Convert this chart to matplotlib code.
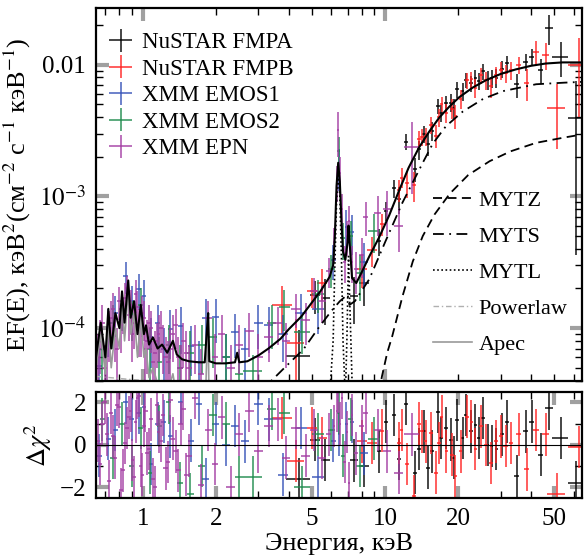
import matplotlib.pyplot as plt
from matplotlib.ticker import FixedLocator, FixedFormatter, NullFormatter, LogLocator
from matplotlib.lines import Line2D

plt.rcParams['font.family'] = ['Liberation Serif', 'DejaVu Serif']
plt.rcParams['mathtext.fontset'] = 'stix'

# ---- model curves (E in keV, EF(E)) ----
mod_E = [0.64, 0.67, 0.70, 0.72, 0.74, 0.77, 0.80, 0.82, 0.84, 0.87, 0.89, 0.92, 0.95, 0.98, 1.01, 1.03,
         1.06, 1.10, 1.15, 1.20, 1.26, 1.33, 1.38, 1.45, 1.55, 1.70, 1.80, 1.84, 1.86, 1.88, 2.0, 2.2, 2.4,
         2.45, 2.5, 2.7, 3.0, 3.3, 3.7, 4.0, 4.5, 4.9, 5.4, 5.9, 6.1, 6.2, 6.3, 6.4, 6.5, 6.6, 6.7, 6.85,
         7.0, 7.06, 7.15, 7.3, 7.6, 8.0, 8.6, 9.45, 10.4, 11.4, 12.5, 13.8, 15.2, 16.7, 18.4, 20.2, 23, 26,
         30, 34.6, 40, 46, 54, 65]
mod_total = [6e-5, 1.1e-4, 6e-5, 1.4e-4, 7e-5, 1.3e-4, 1.0e-4, 1.9e-4, 1.1e-4, 2.3e-4, 1.2e-4, 1.6e-4,
             9e-5, 1.5e-4, 9e-5, 1.05e-4, 7.5e-5, 8.5e-5, 7e-5, 7.5e-5, 6.5e-5, 8e-5, 6.3e-5, 5.8e-5,
             5.6e-5, 5.5e-5, 5.5e-5, 1.0e-4, 1.3e-4, 5.6e-5, 5.4e-5, 5.4e-5, 5.5e-5, 6.5e-5, 5.5e-5,
             5.6e-5, 6.2e-5, 7e-5, 8.3e-5, 9.8e-5, 1.22e-4, 1.5e-4, 1.9e-4, 2.45e-4, 3.0e-4, 5e-4, 1.2e-3,
             1.8e-3, 1.3e-3, 6.5e-4, 3.8e-4, 3.3e-4, 4.5e-4, 6e-4, 4.2e-4, 2.4e-4, 2.2e-4, 2.65e-4, 3.5e-4,
             4.9e-4, 7.2e-4, 1.1e-3, 1.65e-3, 2.35e-3, 3.1e-3, 3.95e-3, 4.8e-3, 5.65e-3, 6.7e-3, 7.6e-3,
             8.5e-3, 9.2e-3, 9.8e-3, 1.02e-2, 1.04e-2, 1.04e-2]

apec_E = [0.64, 0.67, 0.70, 0.72, 0.74, 0.77, 0.80, 0.82, 0.84, 0.87, 0.89, 0.92, 0.95, 0.98, 1.01, 1.03,
          1.06, 1.10, 1.15, 1.20, 1.26, 1.33, 1.38, 1.45, 1.55, 1.70, 1.80, 1.84, 1.86, 1.88, 2.0, 2.4,
          2.45, 2.5, 3.0, 4.0]
apec_F = [5e-5, 9e-5, 4.5e-5, 1.1e-4, 5e-5, 1.0e-4, 7e-5, 1.7e-4, 8e-5, 2.0e-4, 9e-5, 1.3e-4, 6e-5,
          1.2e-4, 6e-5, 7e-5, 4.2e-5, 5e-5, 3.8e-5, 4e-5, 3.2e-5, 4.5e-5, 3e-5, 2.5e-5, 2.2e-5, 2e-5,
          2e-5, 7e-5, 9e-5, 2e-5, 1.8e-5, 1.6e-5, 2.6e-5, 1.5e-5, 1.2e-5, 8e-6]

pl_E = [0.64, 1, 2, 5, 10, 20, 65]
pl_F = [4.3e-5, 4.0e-5, 3.6e-5, 3.2e-5, 2.9e-5, 2.6e-5, 2.2e-5]

myts_E = [3.0, 3.4, 3.8, 4.6, 5.3, 6.0, 6.5, 7.0, 7.12, 7.5, 8.6, 10.0, 11.8, 14.3, 15.7, 17.8, 20.9,
          25.4, 30.7, 42, 55, 65]
myts_F = [3.3e-5, 4.0e-5, 4.9e-5, 6.9e-5, 1.0e-4, 1.35e-4, 1.6e-4, 1.8e-4, 1.5e-4, 1.6e-4, 2.35e-4,
          4.5e-4, 9e-4, 1.8e-3, 2.5e-3, 3.4e-3, 4.4e-3, 5.5e-3, 6.3e-3, 7.1e-3, 7.3e-3, 7.4e-3]

mytz_E = [9.2, 9.7, 10.2, 10.7, 11.8, 13.0, 14.3, 16.0, 18.5, 22, 27, 33, 42, 55, 65]
mytz_F = [2.5e-5, 4.3e-5, 6.5e-5, 8.7e-5, 1.75e-4, 3.2e-4, 5.0e-4, 7.3e-4, 1.05e-3, 1.45e-3, 1.85e-3,
          2.2e-3, 2.55e-3, 2.8e-3, 2.95e-3]

mytl_E = [5.9, 6.1, 6.2, 6.3, 6.4, 6.5, 6.6, 6.7, 6.85, 6.95, 7.06, 7.15, 7.3, 7.45]
mytl_F = [3e-5, 8e-5, 3e-4, 9e-4, 1.55e-3, 1.0e-3, 3.5e-4, 8e-5, 3e-5, 8e-5, 3.5e-4, 1.5e-4, 4e-5, 2.5e-5]

# ---- NuSTAR FMPA ----
nu_a_E = [4.4, 5.15, 5.66, 7.45, 8.2, 9.45, 10.1, 10.9, 11.4, 12.2, 13.3, 13.8, 14.5, 15.0, 15.6, 16.5,
          17.0, 17.8, 18.7, 19.2, 19.8, 20.9, 21.5, 22.6, 23.6, 24.3, 25.3, 26.5, 27.5, 28.8, 30.3, 31.7,
          34.9, 38.0, 40.3, 43.8, 47.4, 53.0, 61.6]
nu_a_dE = [0.5, 0.25, 0.25, 0.3, 0.4, 0.2, 0.2, 0.2, 0.2, 0.25, 0.25, 0.25, 0.25, 0.25, 0.3, 0.3, 0.3,
           0.3, 0.3, 0.3, 0.35, 0.35, 0.35, 0.4, 0.4, 0.4, 0.45, 0.45, 0.5, 0.5, 0.6, 0.6, 0.8, 0.9, 1.0,
           1.2, 1.9, 4.0, 4.5]
nu_a_F = [6.1e-5, 1.77e-4, 1.7e-4, 1.76e-4, 2.2e-4, 4.6e-4, 7.8e-4, 1.15e-3, 9.6e-4, 2.6e-3, 1.62e-3,
          2.27e-3, 2.98e-3, 2.49e-3, 3.14e-3, 4.82e-3, 4.32e-3, 5.08e-3, 5.15e-3, 4.7e-3, 6.48e-3,
          6.27e-3, 7.59e-3, 7.22e-3, 7.95e-3, 7.53e-3, 8.89e-3, 7.7e-3, 7.87e-3, 7.94e-3, 9.23e-3,
          1.03e-2, 7.07e-3, 1.05e-2, 1.15e-2, 9.1e-3, 1.9e-2, 1.14e-2, 3.96e-3]
nu_a_dF = [3.5e-5, 5e-5, 6.5e-5, 6.8e-5, 7.2e-5, 1.1e-4, 1.3e-4, 1.8e-4, 2.2e-4, 3.5e-4, 3.3e-4, 3.8e-4,
           4.3e-4, 4.8e-4, 5.3e-4, 6.2e-4, 6.6e-4, 7.2e-4, 7.9e-4, 8.3e-4, 8.7e-4, 9.5e-4, 9.9e-4,
           1.05e-3, 1.1e-3, 1.14e-3, 1.18e-3, 1.23e-3, 1.27e-3, 1.31e-3, 1.37e-3, 1.4e-3, 1.47e-3,
           1.53e-3, 1.57e-3, 2e-3, 5e-3, 3.4e-3, 3.6e-3]
nu_a_r = [-1.6, 0.25, -0.7, -0.73, -1.0, -0.3, 1.1, 1.4, -0.65, 1.95, -1.3, -0.2, 0.64, -1.07, -0.3, 1.57,
          0.33, 0.8, 0.25, -0.6, 1.18, 0.33, 1.4, 0.64, 0.95, 0.33, 1.26, 0.0, -0.06, -0.2, 0.5, 1.1,
          -1.45, 0.64, 1.1, -0.45, 1.72, 0.33, -1.77]

# ---- NuSTAR FMPB ----
nu_b_E = [3.76, 4.27, 5.0, 5.5, 8.03, 8.83, 9.7, 11.4, 11.7, 12.3, 13.1, 13.8, 14.2, 14.7, 15.4, 16.2,
          16.7, 17.1, 17.9, 18.8, 19.5, 20.5, 21.7, 22.7, 23.6, 24.8, 26.1, 27.3, 28.6, 30.0, 31.4, 33.0,
          35.6, 38.4, 41.8, 46.0, 51.0, 63.0]
nu_b_dE = [0.35, 0.35, 0.25, 0.25, 0.35, 0.4, 0.2, 0.2, 0.2, 0.25, 0.25, 0.25, 0.25, 0.25, 0.3, 0.3, 0.3,
           0.3, 0.3, 0.35, 0.35, 0.35, 0.4, 0.4, 0.4, 0.45, 0.45, 0.5, 0.5, 0.6, 0.6, 0.7, 0.8, 1.0, 1.2,
           1.6, 4.5, 6.0]
nu_b_F = [1.5e-4, 7.7e-5, 1.92e-4, 2.2e-4, 2.83e-4, 3.9e-4, 6.2e-4, 1.12e-3, 1.39e-3, 1.27e-3, 1.21e-3,
          2.73e-3, 2.81e-3, 2.88e-3, 3.49e-3, 2.89e-3, 4.01e-3, 5.03e-3, 4.33e-3, 4.64e-3, 4.11e-3,
          5.52e-3, 7.58e-3, 7.76e-3, 6.68e-3, 8.31e-3, 7.6e-3, 6.84e-3, 8.37e-3, 9.04e-3, 8.61e-3,
          9.09e-3, 1.0e-2, 7.3e-3, 1.25e-2, 1.19e-2, 4.7e-3, 1.0e-2]
nu_b_dF = [6e-5, 4e-5, 5e-5, 6e-5, 8e-5, 1e-4, 1.2e-4, 2.2e-4, 2.4e-4, 3e-4, 3.1e-4, 3.8e-4, 4.1e-4,
           4.5e-4, 5.1e-4, 5.8e-4, 6.3e-4, 6.6e-4, 7.3e-4, 8e-4, 8.6e-4, 9.3e-4, 1.0e-3, 1.06e-3, 1.1e-3,
           1.17e-3, 1.22e-3, 1.26e-3, 1.3e-3, 1.36e-3, 1.4e-3, 1.43e-3, 1.5e-3, 2e-3, 2.5e-3, 2.8e-3,
           2.4e-3, 6e-3]
nu_b_r = [1.26, -0.76, 0.8, 0.33, 0.17, 0.1, 0.67, 0.1, 0.7, -0.9, -2.4, 1.0, 0.64, 0.17, 0.56, -1.3, 0.1,
          1.33, -0.3, -0.45, -1.45, -0.3, 1.33, 1.1, -0.2, 0.87, 0.0, -0.84, 0.17, 0.4, -0.06, 0.1, 0.5,
          -1.15, 0.7, 0.5, -2.3, -0.1]

# ---- XMM EMOS1 ----
m1_E = [0.66, 0.72, 0.77, 0.85, 0.90, 0.96, 1.01, 1.08, 1.15, 1.22, 1.30, 1.43, 1.58, 1.70, 1.82, 2.0,
        2.2, 2.41, 2.65, 3.0, 3.3, 3.8, 4.5, 5.3, 6.1, 6.45, 6.9, 7.3, 8.2]
m1_dE = [0.015, 0.015, 0.02, 0.02, 0.02, 0.02, 0.02, 0.025, 0.03, 0.03, 0.035, 0.04, 0.05, 0.05, 0.06,
         0.07, 0.08, 0.09, 0.1, 0.12, 0.14, 0.18, 0.25, 0.3, 0.15, 0.08, 0.1, 0.15, 0.3]
m1_F = [5.2e-5, 1.0e-4, 1.3e-4, 2.5e-4, 1.6e-4, 1.97e-4, 1.75e-4, 8.5e-5, 1.1e-4, 7e-5, 9.8e-5, 1.04e-4,
        7.3e-5, 5.5e-5, 1.2e-4, 1.22e-4, 6e-5, 9.4e-5, 7e-5, 1.1e-4, 1.05e-4, 9e-5, 1.3e-4, 1.4e-4,
        3.3e-4, 1.7e-3, 5.9e-4, 5.4e-4, 3.2e-4]
m1_dF = [2.5e-5, 4e-5, 4.5e-5, 7e-5, 5e-5, 6e-5, 5.5e-5, 3.5e-5, 4e-5, 3e-5, 4e-5, 4e-5, 3e-5, 2.5e-5,
         4.5e-5, 4.5e-5, 3e-5, 3.5e-5, 3e-5, 4e-5, 4e-5, 3.5e-5, 5e-5, 5e-5, 1e-4, 6e-4, 2e-4, 1.8e-4,
         1.2e-4]
m1_r = [-0.5, 0.3, 0.7, 2.0, 1.2, 1.5, 1.8, -0.9, 1.0, 1.1, 0.4, 2.0, 0.2, 1.95, -1.6, 1.0, 0.0, 0.9,
        0.17, 1.95, 1.2, -1.4, 0.8, -1.5, 0.2, 0.5, 1.0, 1.1, -0.4]

# ---- XMM EMOS2 ----
m2_E = [0.68, 0.75, 0.82, 0.90, 0.98, 1.07, 1.17, 1.28, 1.42, 1.57, 1.75, 1.95, 2.2, 2.5, 2.84, 3.4,
        3.84, 4.55, 5.3, 6.0, 6.42, 6.7, 7.2, 7.9, 9.0]
m2_dE = [0.015, 0.02, 0.02, 0.02, 0.025, 0.025, 0.03, 0.03, 0.04, 0.05, 0.06, 0.07, 0.08, 0.1, 0.25,
         0.15, 0.2, 0.35, 0.3, 0.2, 0.08, 0.1, 0.15, 0.3, 0.5]
m2_F = [7e-5, 1.1e-4, 1.4e-4, 1.2e-4, 1.5e-4, 7e-5, 5.5e-5, 7.5e-5, 5e-5, 6.5e-5, 7.5e-5, 8.5e-5, 6e-5,
        4.5e-5, 4.7e-5, 1.1e-4, 1.45e-4, 9.4e-5, 1.8e-4, 2.8e-4, 2.2e-3, 4.8e-4, 5e-4, 2.6e-4, 5.5e-4]
m2_dF = [3e-5, 4e-5, 4.5e-5, 4e-5, 5e-5, 3e-5, 3e-5, 3e-5, 2.5e-5, 3e-5, 3e-5, 3.5e-5, 3e-5, 2.5e-5,
         1.5e-5, 4e-5, 5e-5, 3e-5, 5e-5, 8e-5, 6e-4, 1.5e-4, 1.5e-4, 1e-4, 1.8e-4]
m2_r = [1.2, -0.6, 1.0, -1.0, 0.8, -1.3, 0.9, 2.0, -1.8, -2.3, -1.0, 1.4, 1.0, -1.5, -1.5, 1.7, 1.5,
        -2.0, 0.5, 0.7, 1.5, -0.5, 1.2, -1.0, 0.3]

# ---- XMM EPN ----
pn_E = [0.65, 0.68, 0.71, 0.74, 0.77, 0.80, 0.83, 0.86, 0.89, 0.92, 0.95, 0.98, 1.01, 1.04, 1.08, 1.12,
        1.16, 1.21, 1.27, 1.33, 1.40, 1.47, 1.55, 1.64, 1.74, 1.86, 1.98, 2.12, 2.3, 2.5, 2.75, 3.0,
        3.3, 3.6, 3.9, 4.3, 4.7, 5.1, 5.5, 5.85, 6.15, 6.3, 6.4, 6.5, 6.62, 6.8, 6.95, 7.1, 7.3, 7.6,
        8.0, 8.3, 9.3, 10.2, 11.4, 12.9,
        0.665, 0.695, 0.725, 0.755, 0.785, 0.815, 0.845, 0.875, 0.905, 0.935, 0.965, 0.995, 1.025, 1.06,
        1.10, 1.14, 1.185, 1.24, 1.30, 1.365, 1.435, 1.51]
pn_dE = [0.015, 0.015, 0.015, 0.015, 0.015, 0.015, 0.015, 0.015, 0.015, 0.015, 0.015, 0.015, 0.02, 0.02,
         0.02, 0.02, 0.02, 0.025, 0.025, 0.03, 0.03, 0.035, 0.04, 0.045, 0.05, 0.06, 0.06, 0.07, 0.09,
         0.1, 0.12, 0.12, 0.15, 0.15, 0.15, 0.2, 0.2, 0.2, 0.2, 0.15, 0.08, 0.05, 0.05, 0.05, 0.06, 0.08,
         0.07, 0.08, 0.1, 0.15, 0.2, 0.2, 0.3, 0.4, 0.5, 0.9,
         0.015, 0.015, 0.015, 0.015, 0.015, 0.015, 0.015, 0.015, 0.015, 0.015, 0.015, 0.015, 0.02, 0.02,
         0.02, 0.02, 0.02, 0.025, 0.03, 0.03, 0.035, 0.035]
pn_F = [6e-5, 1.1e-4, 7e-5, 1.2e-4, 9e-5, 1.6e-4, 1.3e-4, 2.0e-4, 1.5e-4, 1.1e-4, 1.45e-4, 1.0e-4, 1.2e-4,
        8e-5, 1.0e-4, 6.5e-5, 9e-5, 7.5e-5, 5.5e-5, 9e-5, 6e-5, 8e-5, 5e-5, 7.5e-5, 4.5e-5, 1.2e-4, 6e-5,
        9e-5, 5e-5, 7.5e-5, 9.5e-5, 6e-5, 8.5e-5, 1.1e-4, 8e-5, 1.4e-4, 1.15e-4, 1.9e-4, 1.6e-4, 2.7e-4,
        4.5e-4, 1.3e-3, 3.2e-3, 1.5e-3, 8e-4, 3.2e-4, 5e-4, 6.5e-4, 3.2e-4, 2.8e-4, 3.6e-4, 7.0e-4,
        7.5e-4, 8e-4, 6e-4, 2.35e-3,
        8e-5, 5e-5, 9.5e-5, 1.4e-4, 7e-5, 1.05e-4, 1.7e-4, 1.25e-4, 9e-5, 1.8e-4, 1.0e-4, 1.3e-4, 7e-5,
        1.1e-4, 5.5e-5, 8e-5, 1.0e-4, 6e-5, 7e-5, 1.05e-4, 5e-5, 6.5e-5]
pn_dF = [3e-5, 4e-5, 3e-5, 4e-5, 3.5e-5, 4.5e-5, 4e-5, 5e-5, 4.5e-5, 4e-5, 4.5e-5, 4e-5, 4e-5, 3.5e-5,
         3.5e-5, 3e-5, 3.5e-5, 3e-5, 2.5e-5, 3.5e-5, 2.5e-5, 3e-5, 2.5e-5, 3e-5, 2.5e-5, 4e-5, 3e-5,
         3.5e-5, 2.5e-5, 3e-5, 3.5e-5, 3e-5, 3e-5, 3.5e-5, 3e-5, 4e-5, 4e-5, 5e-5, 5e-5, 7e-5, 1.3e-4,
         4e-4, 1.2e-3, 5e-4, 2.5e-4, 1e-4, 1.5e-4, 2e-4, 1e-4, 1e-4, 1.2e-4, 2e-4, 2.5e-4, 3e-4, 2.2e-4,
         1.3e-3,
         3.5e-5, 2.5e-5, 4e-5, 4.5e-5, 3e-5, 4e-5, 5e-5, 4.5e-5, 3.5e-5, 5e-5, 4e-5, 4.5e-5, 3e-5, 4e-5,
         2.5e-5, 3e-5, 3.5e-5, 2.5e-5, 3e-5, 3.5e-5, 2.5e-5, 3e-5]
pn_r = [0.2, 1.0, 0.5, 1.5, -0.6, 1.8, -1.2, 0.8, 1.6, -1.5, 2.2, -1.0, 0.9, -0.4, 1.2, -2.0, 0.6, 1.4,
        -0.8, 0.3, -1.2, 1.7, -0.5, 2.2, -1.9, 0.7, -0.9, 1.3, -2.0, 0.5, 1.6, -0.3, 0.9, 1.2, -0.6, 0.8,
        -0.5, 0.7, -0.6, 0.5, 0.9, 1.6, 2.5, 1.0, 2.2, -0.8, 0.6, -1.8, 1.4, -0.4, 0.9, 1.5, 0.7, -0.3,
        -1.3, 0.5,
        -0.9, 2.0, -1.7, 0.4, 1.9, -2.1, 0.1, 1.3, -0.7, 1.1, 2.3, -1.4, 1.6, -0.2, -1.6, 1.9, 0.2, -1.1,
        2.1, -0.3, 1.0, -1.4]

fig = plt.figure(figsize=(5.85, 5.59), dpi=100)
ax1 = fig.add_axes([0.164, 0.318, 0.831, 0.668])
ax2 = fig.add_axes([0.164, 0.109, 0.831, 0.190])

datasets = [
    (nu_a_E, nu_a_dE, nu_a_F, nu_a_dF, nu_a_r, 'black', 'NuSTAR FMPA'),
    (nu_b_E, nu_b_dE, nu_b_F, nu_b_dF, nu_b_r, '#ff2020', 'NuSTAR FMPB'),
    (m1_E, m1_dE, m1_F, m1_dF, m1_r, '#3552b8', 'XMM EMOS1'),
    (m2_E, m2_dE, m2_F, m2_dF, m2_r, '#1d8a4c', 'XMM EMOS2'),
    (pn_E, pn_dE, pn_F, pn_dF, pn_r, '#a23ca2', 'XMM EPN'),
]
handles = []
for E, dE, F, dF, r, col, lab in datasets:
    h = ax1.errorbar(E, F, xerr=dE, yerr=dF, fmt='none', ecolor=col, elinewidth=1.2,
                     capsize=0, alpha=0.85, label=lab)
    ax2.errorbar(E, r, xerr=dE, yerr=1, fmt='none', ecolor=col, elinewidth=1.2,
                 capsize=0, alpha=0.85)
    handles.append(h)

ax1.plot(apec_E, apec_F, color='#9a9a9a', lw=1.2)
ax1.plot(pl_E, pl_F, color='#b0b0b0', lw=1.0, ls=(0, (4, 2, 1, 2)))
ax1.plot(mytl_E, mytl_F, color='black', lw=1.2, ls=(0, (1, 1.5)))
ax1.plot(myts_E, myts_F, color='black', lw=1.3, ls=(0, (6, 3, 1, 3)))
ax1.plot(mytz_E, mytz_F, color='black', lw=1.3, ls=(0, (5, 3)))
ax1.plot(mod_E, mod_total, color='black', lw=1.5)

ax2.axhline(0, color='black', lw=0.8)

for ax in (ax1, ax2):
    ax.set_xscale('log')
    ax.set_xlim(0.64, 65)
    ax.tick_params(which='both', direction='in', top=True, right=True)
    ax.tick_params(which='major', length=9, width=3, color='#a0a0a0', labelsize=18, pad=7)
    ax.tick_params(which='minor', length=5, width=1, color='black')
    for s in ax.spines.values():
        s.set_linewidth(1.6)

ax1.xaxis.set_major_locator(FixedLocator([1, 10]))
ax1.xaxis.set_minor_locator(FixedLocator([0.7, 0.8, 0.9, 2, 3, 4, 5, 6, 7, 8, 9, 20, 30, 40, 50, 60]))
ax1.xaxis.set_major_formatter(NullFormatter())
ax1.xaxis.set_minor_formatter(NullFormatter())

ax1.set_yscale('log')
ax1.set_ylim(3.95e-5, 0.027)
ax1.yaxis.set_major_locator(FixedLocator([1e-4, 1e-3, 1e-2]))
ax1.yaxis.set_major_formatter(FixedFormatter(['$10^{-4}$', '$10^{-3}$', '0.01']))
ax1.yaxis.set_minor_locator(LogLocator(base=10, subs=range(2, 10)))
ax1.yaxis.set_minor_formatter(NullFormatter())
ax1.set_ylabel('EF(E), кэВ$^2$(см$^{-2}$ с$^{-1}$ кэВ$^{-1}$)', fontsize=19, labelpad=4)

ax2.xaxis.set_major_locator(FixedLocator([1, 2, 5, 10, 20, 50]))
ax2.xaxis.set_major_formatter(FixedFormatter(['1', '2', '5', '10', '20', '50']))
ax2.xaxis.set_minor_locator(FixedLocator([0.7, 0.8, 0.9, 3, 4, 6, 7, 8, 9, 30, 40, 60]))
ax2.xaxis.set_minor_formatter(NullFormatter())
ax2.set_ylim(-2.5, 2.5)
ax2.yaxis.set_major_locator(FixedLocator([-2, 0, 2]))
ax2.yaxis.set_minor_locator(FixedLocator([-1, 1]))
ax2.set_ylabel(r'$\Delta\chi^2$', fontsize=19, labelpad=4)
ax2.set_xlabel('Энергия, кэВ', fontsize=19, labelpad=2)

leg1 = ax1.legend(handles, [d[-1] for d in datasets], loc='upper left', bbox_to_anchor=(0.02, 0.935),
                  frameon=False, fontsize=16.5, handlelength=1.3, handletextpad=0.3,
                  labelspacing=0.24, borderaxespad=0, borderpad=0)
ax1.add_artist(leg1)

model_handles = [
    Line2D([], [], color='black', lw=1.3, ls=(0, (5, 3))),
    Line2D([], [], color='black', lw=1.3, ls=(0, (6, 3, 1, 3))),
    Line2D([], [], color='black', lw=1.2, ls=(0, (1, 1.5))),
    Line2D([], [], color='#b0b0b0', lw=1.0, ls=(0, (4, 2, 1, 2))),
    Line2D([], [], color='#9a9a9a', lw=1.2),
]
ax1.legend(model_handles, ['MYTZ', 'MYTS', 'MYTL', 'Powerlaw', 'Apec'], loc='upper left',
           bbox_to_anchor=(0.693, 0.512), frameon=False, fontsize=16, handlelength=1.75,
           handletextpad=0.3, labelspacing=0.7, borderaxespad=0, borderpad=0)

fig.savefig('out.png', dpi=100)
